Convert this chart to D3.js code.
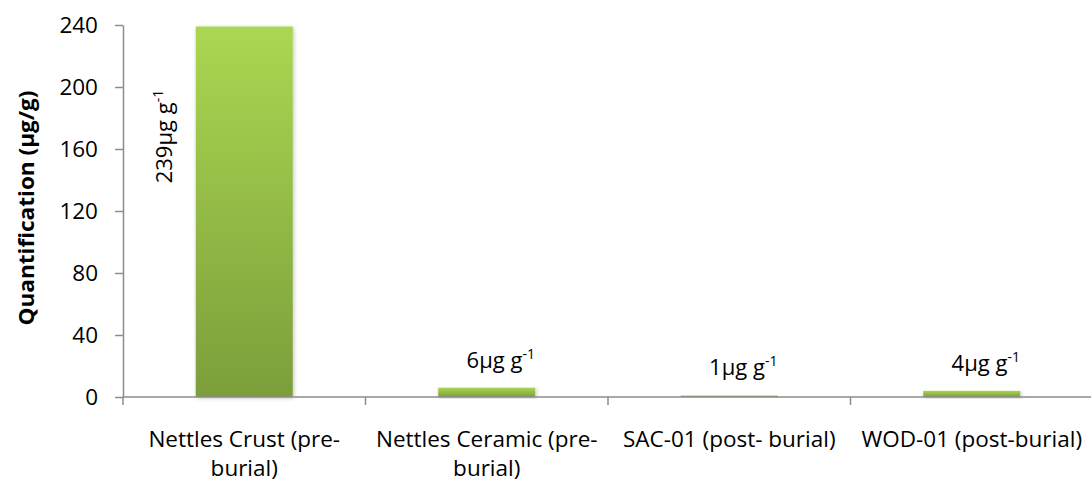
<!DOCTYPE html>
<html>
<head>
<meta charset="utf-8">
<script src="https://cdnjs.cloudflare.com/ajax/libs/d3/7.8.5/d3.min.js"></script>
<style>
  html, body { margin: 0; padding: 0; background: #fff; }
  svg { display: block; }
  text { font-family: "Open Sans", sans-serif; fill: #000; }
</style>
</head>
<body>
<svg id="chart" width="1091" height="482"></svg>
<script>
// Sample categories, each split over two label lines
const categories = [
  ["Nettles Crust (pre-", "burial)"],
  ["Nettles Ceramic (pre-", "burial)"],
  ["SAC-01 (post- burial)"],
  ["WOD-01 (post-burial)"]
];
const values = [239, 6, 1, 4];
const valueLabels = ["239", "6", "1", "4"];
const yTicks = [0, 40, 80, 120, 160, 200, 240];
const yTitle = "Quantification (\u03bcg/g)";

const svg = d3.select("#chart");
const margin = { left: 123, right: 0, top: 25, bottom: 85 };
const W = 1091, H = 482;
const FS = 22;

const x = d3.scaleBand()
  .domain(d3.range(categories.length))
  .range([margin.left, W + 2])
  .paddingInner(0.6)
  .paddingOuter(0.3);

const y = d3.scaleLinear().domain([0, 240]).range([H - margin.bottom, margin.top]);

const defs = svg.append("defs");
const grad = defs.append("linearGradient")
  .attr("id", "barFill").attr("x1", 0).attr("y1", 0).attr("x2", 0).attr("y2", 1);
grad.append("stop").attr("offset", "0%").attr("stop-color", "#aad752");
grad.append("stop").attr("offset", "100%").attr("stop-color", "#7c9e3a");

const shadow = defs.append("filter").attr("id", "shadow")
  .attr("x", "-10%").attr("y", "-10%").attr("width", "130%").attr("height", "130%");
shadow.append("feGaussianBlur").attr("in", "SourceAlpha").attr("stdDeviation", 2).attr("result", "b");
shadow.append("feOffset").attr("dx", 1).attr("dy", 1).attr("result", "o");
shadow.append("feComponentTransfer").append("feFuncA").attr("type", "linear").attr("slope", 0.25);
const merge = shadow.append("feMerge");
merge.append("feMergeNode");
merge.append("feMergeNode").attr("in", "SourceGraphic");

// Bars
svg.append("g").selectAll("rect")
  .data(values)
  .join("rect")
  .attr("x", (d, i) => x(i))
  .attr("width", x.bandwidth())
  .attr("y", d => y(d))
  .attr("height", d => y(0) - y(d))
  .attr("fill", "url(#barFill)")
  .attr("filter", "url(#shadow)");

// Y axis
const yAxis = d3.axisLeft(y).tickValues(yTicks).tickSize(8).tickPadding(17).tickSizeOuter(0);
const gy = svg.append("g").attr("transform", `translate(${margin.left},0)`).call(yAxis);
gy.attr("font-family", null).attr("font-size", null);
gy.select(".domain").attr("stroke", "#8c8c8c").attr("stroke-width", 1.5);
gy.selectAll(".tick line").attr("stroke", "#8c8c8c").attr("stroke-width", 1.5);
gy.selectAll(".tick text").attr("font-size", 22.5).attr("fill", "#000");

// X axis baseline with boundary ticks between categories
const step = x.step();
svg.append("line")
  .attr("x1", margin.left).attr("x2", W)
  .attr("y1", y(0)).attr("y2", y(0))
  .attr("stroke", "#8c8c8c").attr("stroke-width", 1.5);
svg.append("g").selectAll("line")
  .data(d3.range(categories.length))
  .join("line")
  .attr("x1", i => x(i) - step * 0.3)
  .attr("x2", i => x(i) - step * 0.3)
  .attr("y1", y(0)).attr("y2", y(0) + 8)
  .attr("stroke", "#8c8c8c").attr("stroke-width", 1.5);

// Category labels: one text element per line
const lines = categories.flatMap((c, i) => c.map((t, j) => ({ t, i, j })));
svg.append("g").selectAll("text")
  .data(lines)
  .join("text")
  .attr("text-anchor", "middle")
  .attr("font-size", 22.5)
  .attr("x", d => x(d.i) + x.bandwidth() / 2)
  .attr("y", d => 447 + d.j * 29)
  .text(d => d.t);

// Y axis title
svg.append("text")
  .attr("transform", `translate(34,${(y(0) + y(240)) / 2 - 3}) rotate(-90)`)
  .attr("text-anchor", "middle")
  .attr("font-size", 21)
  .attr("font-weight", "bold")
  .attr("textLength", 235)
  .attr("lengthAdjust", "spacingAndGlyphs")
  .text(yTitle);

// Rotated label beside the tall first bar
svg.append("g").selectAll("text")
  .data([{ v: values[0], i: 0 }])
  .join("text")
  .attr("font-size", FS)
  .attr("text-anchor", "middle")
  .attr("transform", d => `translate(${x(d.i) - 24},${y(d.v) + 110}) rotate(-90)`)
  .call(s => {
    s.append("tspan").text(d => valueLabels[d.i] + "\u03bcg g");
    s.append("tspan").attr("dy", -9).attr("font-size", 14).text("-1");
  });

// Labels above the short bars
svg.append("g").selectAll("text")
  .data(values.map((v, i) => ({ v, i })).slice(1))
  .join("text")
  .attr("font-size", FS)
  .attr("text-anchor", "middle")
  .attr("x", d => x(d.i) + x.bandwidth() / 2 + 14)
  .attr("y", d => y(d.v) - 20)
  .call(s => {
    s.append("tspan").text(d => valueLabels[d.i] + "\u03bcg g");
    s.append("tspan").attr("dy", -9).attr("font-size", 14).text("-1");
  });
</script>
</body>
</html>
